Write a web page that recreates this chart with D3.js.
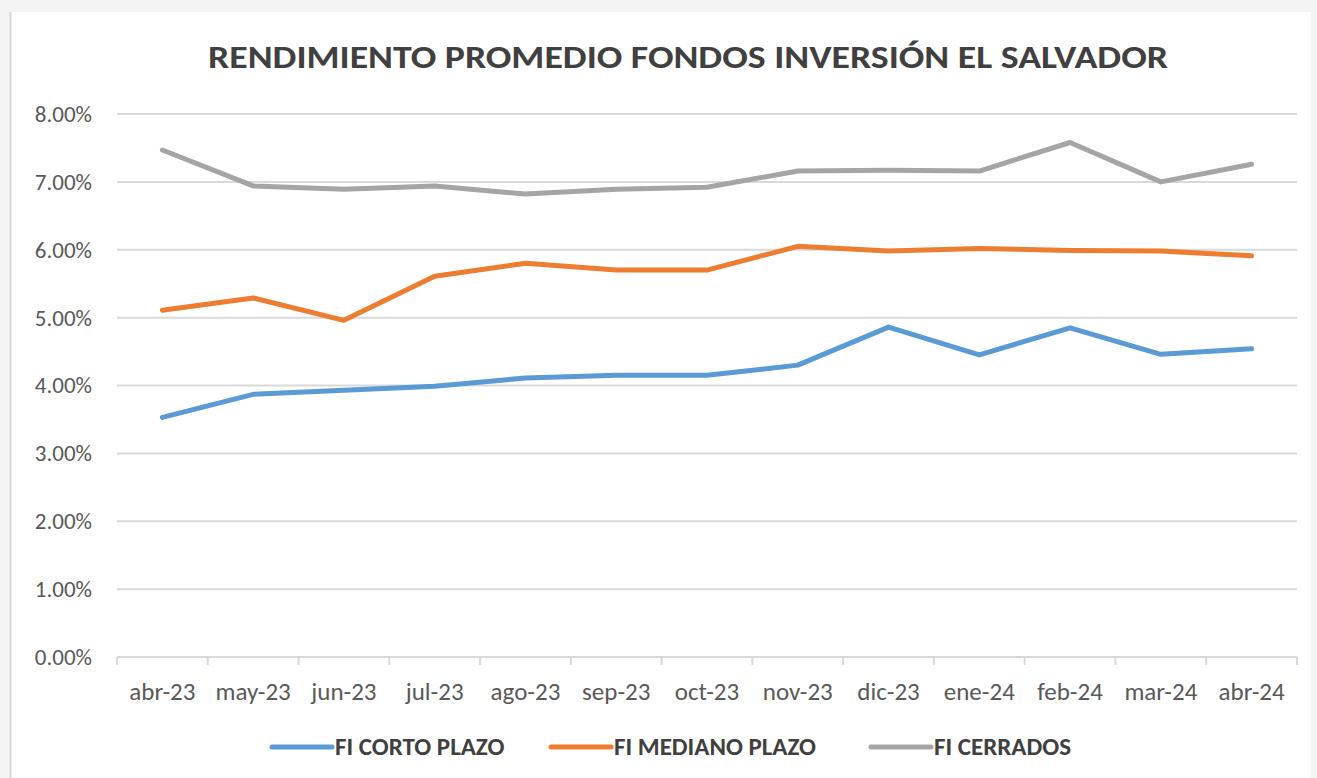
<!DOCTYPE html>
<html>
<head>
<meta charset="utf-8">
<script src="https://cdn.jsdelivr.net/npm/d3@7"></script>
<style>
  body { margin: 0; background: #f4f4f4; }
  svg { display: block; }
  .tick text { fill: #595959; }
</style>
</head>
<body>
<div class="canva"></div>
<script>
// months on the x axis
const months = ["abr-23","may-23","jun-23","jul-23","ago-23","sep-23","oct-23",
                "nov-23","dic-23","ene-24","feb-24","mar-24","abr-24"];
const yTicks = [0,1,2,3,4,5,6,7,8];

// series values (%)
const cortoPlazo  = [3.53,3.87,3.93,3.99,4.11,4.15,4.15,4.30,4.86,4.45,4.85,4.46,4.54];
const medianoPlazo = [5.11,5.29,4.96,5.61,5.80,5.70,5.70,6.05,5.98,6.02,5.99,5.98,5.91];
const cerrados    = [7.47,6.94,6.89,6.94,6.82,6.89,6.92,7.16,7.17,7.16,7.58,7.00,7.26];

const seriesNames = ["FI CORTO PLAZO","FI MEDIANO PLAZO","FI CERRADOS"];
const seriesColors = ["#5b9bd5","#ed7d31","#a5a5a5"];

const width = 1317, height = 778;
const margin = {top:114, right:20, bottom:121, left:117};
const graphWidth = 1297 - margin.left;
const graphHeight = 657 - margin.top;

const svg = d3.select(".canva").append("svg")
    .attr("width", width)
    .attr("height", height)
    .style("font-family", "Calibri, Carlito, Lato, 'Open Sans', sans-serif");

// white chart area with left border
svg.append("rect")
    .attr("x", 10).attr("y", 12)
    .attr("width", 1301).attr("height", height - 12)
    .attr("fill", "#ffffff");
svg.append("line")
    .attr("x1", 10.5).attr("x2", 10.5).attr("y1", 12).attr("y2", height)
    .attr("stroke", "#d4d4d4").attr("stroke-width", 2);

// title
svg.append("text")
    .attr("x", 688).attr("y", 68)
    .attr("text-anchor", "middle")
    .attr("fill", "#404040")
    .style("font-size", "33px")
    .style("font-weight", "bold")
    .attr("textLength", 960)
    .attr("lengthAdjust", "spacingAndGlyphs")
    .text("RENDIMIENTO PROMEDIO FONDOS INVERSIÓN EL SALVADOR");

const mainCanvas = svg.append("g")
    .attr("transform", `translate(${margin.left}, ${margin.top})`);

const x = d3.scaleBand()
    .domain(months)
    .range([0, graphWidth]);

const y = d3.scaleLinear()
    .domain([0, 8])
    .range([graphHeight, 0]);

// gridlines
mainCanvas.append("g")
    .selectAll("line")
    .data(yTicks)
    .enter()
    .append("line")
    .attr("x1", 0).attr("x2", graphWidth)
    .attr("y1", d => y(d)).attr("y2", d => y(d))
    .attr("stroke", "#d9d9d9")
    .attr("stroke-width", 2);

// y axis labels
const yAxis = d3.axisLeft(y)
    .tickValues(yTicks)
    .tickFormat(d => d.toFixed(2) + "%")
    .tickSize(0)
    .tickPadding(25);
const yG = mainCanvas.append("g").call(yAxis)
    .attr("font-family", null)
    .attr("font-size", null);
yG.select(".domain").remove();
yG.selectAll("text").style("font-size", "23px");

// x axis with ticks at category boundaries
const xAxisG = mainCanvas.append("g")
    .attr("transform", `translate(0, ${graphHeight})`);
const bounds = d3.range(months.length + 1).map(i => i * x.step());
xAxisG.selectAll(".bound")
    .data(bounds)
    .enter()
    .append("line")
    .attr("class", "bound")
    .attr("x1", d => d).attr("x2", d => d)
    .attr("y1", 0).attr("y2", 8)
    .attr("stroke", "#d9d9d9")
    .attr("stroke-width", 2);
xAxisG.selectAll(".mlabel")
    .data(months)
    .enter()
    .append("text")
    .attr("class", "mlabel")
    .attr("x", d => x(d) + x.bandwidth() / 2)
    .attr("y", 43)
    .attr("text-anchor", "middle")
    .attr("fill", "#595959")
    .style("font-size", "25px")
    .text(d => d);

// lines
const allSeries = [cortoPlazo, medianoPlazo, cerrados];
const line = d3.line()
    .x((d, i) => x(months[i]) + x.bandwidth() / 2)
    .y(d => y(d));

mainCanvas.selectAll(".series")
    .data(allSeries)
    .enter()
    .append("path")
    .attr("class", "series")
    .attr("d", line)
    .attr("fill", "none")
    .attr("stroke", (d, i) => seriesColors[i])
    .attr("stroke-width", 5)
    .attr("stroke-linecap", "round")
    .attr("stroke-linejoin", "round");

// legend
const legendX = [272, 551, 871];
const legend = svg.selectAll(".legend")
    .data(seriesNames)
    .enter()
    .append("g")
    .attr("class", "legend")
    .attr("transform", (d, i) => `translate(${legendX[i]}, 747)`);
legend.append("line")
    .attr("x1", 0).attr("x2", 60)
    .attr("stroke", (d, i) => seriesColors[i])
    .attr("stroke-width", 5)
    .attr("stroke-linecap", "round");
legend.append("text")
    .attr("x", 63).attr("y", 8)
    .attr("fill", "#404040")
    .style("font-size", "25px")
    .style("font-weight", "bold")
    .text(d => d);
</script>
</body>
</html>
